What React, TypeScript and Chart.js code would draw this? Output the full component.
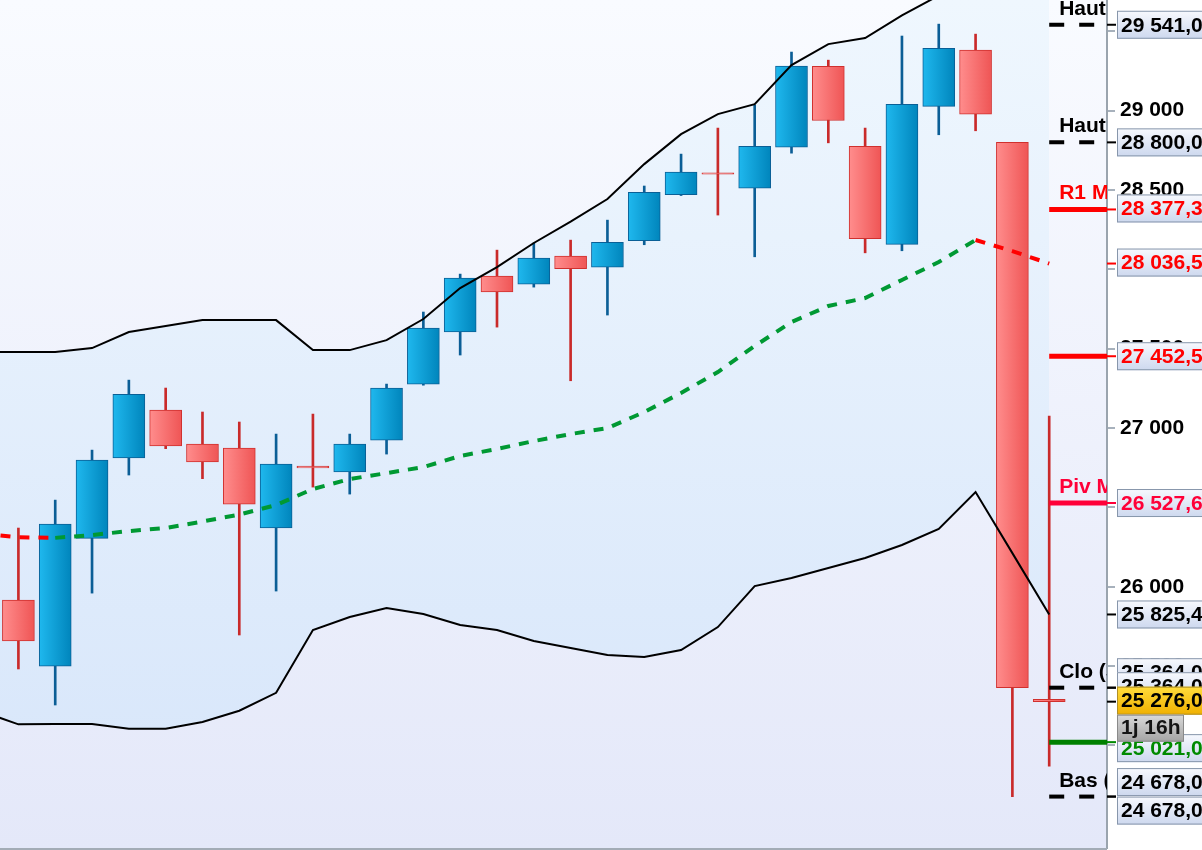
import React, { useEffect, useRef } from 'react';
import { Chart, registerables } from 'chart.js';

Chart.register(...registerables);

// ---------- data ----------
const candleIndex = [0, 1, 2, 3, 4, 5, 6, 7, 8, 9, 10, 11, 12, 13, 14, 15, 16, 17, 18, 19, 20, 21, 22, 23, 24, 25, 26, 27, 28];
const opens = [25916, 25500, 26305, 26811, 27113, 26899, 26874, 26370, 26760, 26723, 26924, 27277, 27605, 27958, 27907, 28084, 28014, 28180, 28470, 28608, 28512, 28770, 29279, 28775, 28157, 29027, 29381, 28800, 25290];
const highs = [26370, 26546, 26861, 27302, 27252, 27101, 27038, 26962, 27088, 26962, 27277, 27731, 27970, 28121, 28166, 28184, 28310, 28525, 28726, 28890, 29035, 29369, 29318, 28890, 29470, 29545, 29482, 28800, 27076];
const lows = [25482, 25255, 25960, 26704, 26870, 26681, 25696, 25973, 26628, 26584, 26836, 27270, 27460, 27636, 27888, 27298, 27712, 28155, 28465, 28342, 28079, 28732, 28797, 28104, 28117, 28848, 28873, 24678, 24870];
const closes = [25658, 26395, 26798, 27212, 26887, 26786, 26521, 26773, 26748, 26899, 27252, 27630, 27945, 27857, 28071, 28004, 28170, 28485, 28613, 28600, 28775, 29281, 28938, 28193, 29039, 29392, 28978, 25364, 25276];

const bandIndex = [-1, 0, 1, 2, 3, 4, 5, 6, 7, 8, 9, 10, 11, 12, 13, 14, 15, 16, 17, 18, 19, 20, 21, 22, 23, 24, 25, 26, 27, 28];
const upperBand = [27479, 27479, 27479, 27504, 27605, 27643, 27680, 27680, 27680, 27491, 27491, 27554, 27687, 27882, 28014, 28166, 28300, 28443, 28663, 28852, 28978, 29041, 29287, 29419, 29457, 29600, 29725, 29775, 30020, 30250];
const lowerBand = [25215, 25133, 25135, 25135, 25105, 25105, 25148, 25219, 25332, 25727, 25809, 25866, 25828, 25759, 25727, 25658, 25614, 25570, 25557, 25601, 25746, 26004, 26055, 26118, 26181, 26263, 26364, 26597, 26212, 25825.4];
const movingAvg = [26335, 26312, 26308, 26326, 26351, 26370, 26411, 26455, 26515, 26616, 26679, 26716, 26754, 26824, 26868, 26918, 26962, 27000, 27101, 27221, 27353, 27517, 27668, 27769, 27819, 27933, 28046, 28185, 28115, 28036.5];

const yMin = 24354;
const yMax = 29697;
const yTickValues = [25000, 25500, 26000, 26500, 27000, 27500, 28000, 28500, 29000, 29500];

const levelValues = [29541.0, 28800.0, 28377.3, 27452.5, 26527.6, 25364.0, 25021.0, 24678.0];
const levelNames = ['Haut (M-1)', 'Haut (S-1)', 'R1 M', '', 'Piv M', 'Clo (S-1)', '', 'Bas (S-1)'];
const levelColors = ['#000000', '#000000', '#ff0000', '#ff0000', '#ff0038', '#000000', '#008000', '#000000'];
const levelDashed = [true, true, false, false, false, true, false, true];

const tagValues = [29541.0, 28800.0, 28377.3, 28036.5, 27452.5, 26527.6, 25825.4, 25364.0, 25364.0, 25276.0, 25021.0, 24678.0, 24678.0];
const tagColors = ['#000000', '#000000', '#ff0000', '#ff0000', '#ff0000', '#ff0038', '#000000', '#000000', '#000000', '#000000', '#008a00', '#000000', '#000000'];
const tagKinds = ['plain', 'plain', 'plain', 'plain', 'plain', 'plain', 'plain', 'plain', 'plain', 'price', 'plain', 'plain', 'plain'];
const countdownText = '1j 16h';

// ---------- layout / style (not data) ----------
const tagShift = [0, 0, -1, -1, 0, 0, 0, -15.5, -1.5, -1, 6, -14.5, 14];
const FONT = "bold 21px 'Liberation Sans', Arial, sans-serif";
const UP_WICK = '#0b5e96';
const DOWN_WICK = '#c92a2a';
const UP_BORDER = '#0a5f96';
const DOWN_BORDER = '#d0302e';

const groupDigits = (s: string) => s.replace(/\B(?=(\d{3})+(?!\d))/g, ' ');
const fmtTick = (v: number) => groupDigits(String(Math.round(v)));
const fmtTag = (v: number) => {
  const [a, b] = v.toFixed(1).split('.');
  return groupDigits(a) + ',' + b;
};

const okArea = (a: any) =>
  a && Number.isFinite(a.top) && Number.isFinite(a.bottom) && Number.isFinite(a.left) && Number.isFinite(a.right) && a.bottom > a.top;

const bgPlugin = {
  id: 'bgPlugin',
  beforeDraw(chart: any) {
    const { ctx, chartArea: a } = chart;
    if (!okArea(a)) return;
    ctx.save();
    const g = ctx.createLinearGradient(0, a.top, 0, a.bottom);
    g.addColorStop(0, '#f9fbff');
    g.addColorStop(1, '#e4e8f9');
    ctx.fillStyle = g;
    ctx.fillRect(a.left, a.top, a.right - a.left, a.bottom - a.top);
    ctx.restore();
  },
};

const levelsPlugin = {
  id: 'levelsPlugin',
  afterDatasetsDraw(chart: any) {
    const { ctx, chartArea: a, scales } = chart;
    const x0 = scales.x.getPixelForValue(candleIndex[candleIndex.length - 1]);
    ctx.save();
    ctx.beginPath();
    ctx.rect(a.left, a.top, a.right - a.left, a.bottom - a.top);
    ctx.clip();
    levelValues.forEach((v, k) => {
      const y = scales.y.getPixelForValue(v);
      ctx.strokeStyle = levelColors[k];
      ctx.lineWidth = levelDashed[k] ? 4 : 5;
      ctx.setLineDash(levelDashed[k] ? [15, 15] : []);
      ctx.beginPath();
      ctx.moveTo(x0, y);
      ctx.lineTo(a.right, y);
      ctx.stroke();
      if (levelNames[k]) {
        ctx.setLineDash([]);
        ctx.fillStyle = levelColors[k];
        ctx.font = FONT;
        ctx.textBaseline = 'alphabetic';
        ctx.textAlign = 'left';
        ctx.fillText(levelNames[k], x0 + 10, y - 10);
      }
    });
    ctx.restore();
  },
};

const tagsPlugin = {
  id: 'tagsPlugin',
  afterDraw(chart: any) {
    const { ctx, chartArea: a, scales } = chart;
    if (!okArea(a)) return;
    const left = a.right + 10;
    const right = chart.width + 10;
    const h = 28;
    ctx.save();
    ctx.strokeStyle = '#a3acb6';
    ctx.lineWidth = 2;
    ctx.beginPath();
    ctx.moveTo(a.left, a.bottom + 1);
    ctx.lineTo(a.right, a.bottom + 1);
    ctx.stroke();

    let priceY = 0;
    tagValues.forEach((v, k) => {
      const vy = scales.y.getPixelForValue(v);
      if (!Number.isFinite(vy)) return;
      ctx.strokeStyle = tagColors[k];
      ctx.lineWidth = 2;
      ctx.beginPath();
      ctx.moveTo(a.right, vy);
      ctx.lineTo(a.right + 9, vy);
      ctx.stroke();
      const cy = vy + tagShift[k];
      const top = cy - h / 2;
      const g = ctx.createLinearGradient(0, top, 0, top + h);
      if (tagKinds[k] === 'price') {
        priceY = cy;
        g.addColorStop(0, '#ffdc3c');
        g.addColorStop(1, '#f0b000');
        ctx.strokeStyle = '#b08f28';
      } else {
        g.addColorStop(0, '#f7f9fe');
        g.addColorStop(1, '#cdd8ee');
        ctx.strokeStyle = '#8796ab';
      }
      ctx.fillStyle = g;
      ctx.fillRect(left, top, right - left, h);
      ctx.lineWidth = 1;
      ctx.strokeRect(left + 0.5, top + 0.5, right - left, h - 1);
      ctx.fillStyle = tagColors[k];
      ctx.font = FONT;
      ctx.textAlign = 'left';
      ctx.textBaseline = 'middle';
      ctx.fillText(fmtTag(v), left + 4, cy + 1);
    });

    const ct = priceY + 14;
    const cw = 67;
    const g2 = ctx.createLinearGradient(0, ct, 0, ct + 27);
    g2.addColorStop(0, '#dadada');
    g2.addColorStop(1, '#a4a4a4');
    ctx.fillStyle = g2;
    ctx.fillRect(left, ct, cw, 27);
    ctx.strokeStyle = '#8a8a8a';
    ctx.lineWidth = 1;
    ctx.strokeRect(left + 0.5, ct + 0.5, cw - 1, 26);
    ctx.fillStyle = '#151515';
    ctx.font = FONT;
    ctx.textBaseline = 'middle';
    ctx.fillText(countdownText, left + 4, ct + 14);
    ctx.restore();
  },
};

export default function App() {
  const ref = useRef<HTMLCanvasElement | null>(null);

  useEffect(() => {
    if (!ref.current) return;
    const isUp = (i: number) => closes[i] >= opens[i];

    const bodyFill = (c: any) => {
      const i = c.dataIndex;
      const chart = c.chart;
      const fallback = i != null && !isUp(i) ? '#f77070' : '#0ea0d6';
      if (i == null || !chart.scales || !chart.scales.x) return fallback;
      const px = chart.scales.x.getPixelForValue(candleIndex[i]);
      if (!Number.isFinite(px)) return fallback;
      const g = chart.ctx.createLinearGradient(px - 16, 0, px + 16, 0);
      if (isUp(i)) {
        g.addColorStop(0, '#1fb8ee');
        g.addColorStop(1, '#0085bc');
      } else {
        g.addColorStop(0, '#ff8d8d');
        g.addColorStop(1, '#ef5555');
      }
      return g;
    };

    const bandFill = (c: any) => {
      const chart = c.chart;
      const a = chart.chartArea;
      if (!okArea(a)) return 'rgba(220,235,252,0.8)';
      const g = chart.ctx.createLinearGradient(0, a.top, 0, a.bottom);
      g.addColorStop(0, '#eff7fe');
      g.addColorStop(1, '#d6e5fa');
      return g;
    };

    const chart = new Chart(ref.current, {
      type: 'bar',
      data: {
        datasets: [
          {
            type: 'line',
            data: bandIndex.map((x, k) => ({ x, y: upperBand[k] })),
            borderColor: '#000000',
            borderWidth: 2,
            pointRadius: 0,
            tension: 0,
            fill: '+1',
            backgroundColor: bandFill,
            order: 1,
          } as any,
          {
            type: 'line',
            data: bandIndex.map((x, k) => ({ x, y: lowerBand[k] })),
            borderColor: '#000000',
            borderWidth: 2,
            pointRadius: 0,
            tension: 0,
            fill: false,
            order: 1,
          } as any,
          {
            type: 'line',
            data: bandIndex.map((x, k) => ({ x, y: movingAvg[k] })),
            borderColor: '#009933',
            borderWidth: 4,
            borderDash: [10, 9],
            pointRadius: 0,
            tension: 0,
            fill: false,
            order: 0,
            segment: {
              borderColor: (s: any) => (s.p1.parsed.y < s.p0.parsed.y ? '#ff0000' : '#009933'),
            },
          } as any,
          {
            type: 'bar',
            data: candleIndex.map((x, i) => ({ x, y: [lows[i], highs[i]] })),
            backgroundColor: candleIndex.map((i) => (isUp(i) ? UP_WICK : DOWN_WICK)),
            borderWidth: 0,
            barThickness: 2,
            grouped: false,
            order: 3,
          } as any,
          {
            type: 'bar',
            data: candleIndex.map((x, i) => ({ x, y: [opens[i], closes[i]] })),
            backgroundColor: bodyFill,
            borderColor: candleIndex.map((i) => (isUp(i) ? UP_BORDER : DOWN_BORDER)),
            borderWidth: 1,
            borderSkipped: false,
            barThickness: 32,
            grouped: false,
            order: 2,
          } as any,
        ],
      },
      options: {
        animation: false,
        responsive: false,
        maintainAspectRatio: false,
        events: [],
        layout: { padding: { left: 0, right: 0, top: 0, bottom: 2 } },
        plugins: {
          legend: { display: false },
          tooltip: { enabled: false },
          filler: { drawTime: 'beforeDatasetsDraw' },
        } as any,
        scales: {
          x: {
            type: 'linear',
            min: -0.5,
            max: 29.57,
            display: false,
            offset: false,
          },
          y: {
            type: 'linear',
            position: 'right',
            min: yMin,
            max: yMax,
            afterBuildTicks: (s: any) => {
              s.ticks = yTickValues.map((v) => ({ value: v }));
            },
            afterFit: (s: any) => {
              s.width = 95;
              s.paddingTop = 0;
              s.paddingBottom = 0;
            },
            grid: {
              drawOnChartArea: false,
              drawTicks: true,
              tickLength: 8,
              color: '#a7b1bc',
              lineWidth: 2,
            },
            border: { display: true, color: '#9aa4ae', width: 2 },
            ticks: {
              autoSkip: false,
              padding: 5,
              color: '#000000',
              font: { family: "'Liberation Sans', Arial, sans-serif", size: 21, weight: 'bold' },
              callback: (v: any) => fmtTick(Number(v)),
            },
          } as any,
        },
      },
      plugins: [bgPlugin, levelsPlugin, tagsPlugin],
    });

    return () => chart.destroy();
  }, []);

  return (
    <div style={{ position: 'fixed', left: 0, top: 0, width: 1202, height: 850, background: '#ffffff' }}>
      <canvas ref={ref} width={1202} height={850} style={{ display: 'block', width: 1202, height: 850 }} />
    </div>
  );
}
